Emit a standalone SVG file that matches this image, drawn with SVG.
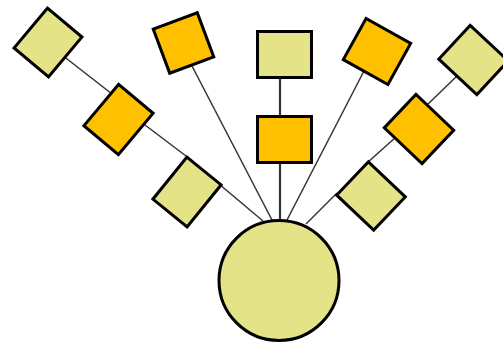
<svg xmlns="http://www.w3.org/2000/svg" width="503" height="345" viewBox="0 0 503 345">
<style>
.y{fill:#E5E388;stroke:#000;stroke-width:3;stroke-linejoin:miter}
.o{fill:#FFC000;stroke:#000;stroke-width:3;stroke-linejoin:miter}
.c line{stroke:#333;stroke-width:1.5;stroke-linecap:butt}
</style>
<rect width="503" height="345" fill="#fff"/>
<g id="connectors" class="c">
<line x1="62" y1="55" x2="112" y2="94"/>
<line x1="145" y1="125" x2="186" y2="156"/>
<line x1="219" y1="184" x2="263" y2="221"/>
<line x1="192" y1="66" x2="272" y2="220"/>
<line x1="280" y1="78" x2="280" y2="117" style="stroke-width:2.2"/>
<line x1="280" y1="163" x2="280" y2="220" style="stroke-width:2.2"/>
<line x1="364" y1="71" x2="287" y2="220"/>
<line x1="457" y1="76" x2="427" y2="105"/>
<line x1="396" y1="137" x2="367" y2="163"/>
<line x1="337" y1="193" x2="306" y2="224"/>
</g>
<g id="nodeA"><rect class="y" x="-26" y="-22.5" width="52" height="45" transform="translate(48,42.5) rotate(-50)"/></g>
<g id="nodeB"><rect class="o" x="-27" y="-22.5" width="54" height="45" transform="translate(118.5,119.5) rotate(-50)"/></g>
<g id="nodeC"><rect class="y" x="-27" y="-22" width="54" height="44" transform="translate(187,192) rotate(-51)"/></g>
<g id="nodeD"><rect class="o" x="-23.5" y="-23.5" width="47" height="47" transform="translate(183.5,43) rotate(-20.5)"/></g>
<g id="nodeTop"><rect class="y" x="257.5" y="31.5" width="54" height="46"/></g>
<g id="nodeMid"><rect class="o" x="257.5" y="116.5" width="54" height="46"/></g>
<g id="nodeE"><rect class="o" x="-25.5" y="-23.5" width="51" height="47" transform="translate(377,51.5) rotate(29)"/></g>
<g id="nodeF"><rect class="y" x="-26" y="-23" width="52" height="46" transform="translate(473.5,60) rotate(43)"/></g>
<g id="nodeG"><rect class="o" x="-26" y="-23" width="52" height="46" transform="translate(419,129) rotate(43.5)"/></g>
<g id="nodeH"><rect class="y" x="-25.5" y="-23" width="51" height="46" transform="translate(371,196) rotate(43.5)"/></g>
<g id="root"><circle class="y" cx="279" cy="280.5" r="60"/></g>
</svg>
